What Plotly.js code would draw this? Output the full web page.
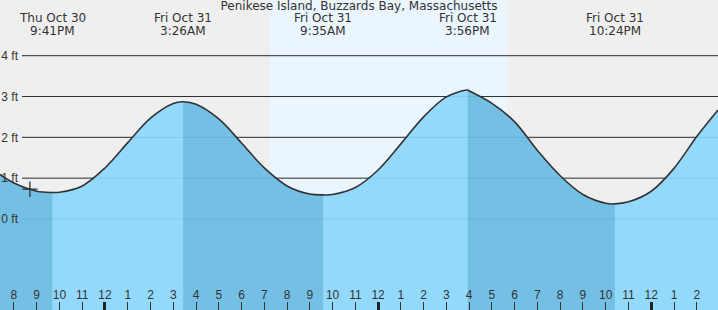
<!DOCTYPE html>
<html>
<head>
<meta charset="utf-8">
<script src="https://cdn.plot.ly/plotly-3.0.1.min.js"></script>
<style>
html,body{margin:0;padding:0;background:#efefef;}
#chart{width:718px;height:310px;}
</style>
</head>
<body>
<div id="chart"></div>
<script>
// ---- data ----
const chartTitle = 'Penikese Island, Buzzards Bay, Massachusetts';
const times = [
  '2025-10-30 19:23:13','2025-10-30 20:00','2025-10-30 21:00','2025-10-30 21:41','2025-10-30 22:00','2025-10-30 23:00',
  '2025-10-31 00:00','2025-10-31 01:00','2025-10-31 02:00','2025-10-31 03:00','2025-10-31 03:26','2025-10-31 04:00',
  '2025-10-31 05:00','2025-10-31 06:00','2025-10-31 07:00','2025-10-31 08:00','2025-10-31 09:00','2025-10-31 09:35',
  '2025-10-31 10:00','2025-10-31 11:00','2025-10-31 12:00','2025-10-31 13:00','2025-10-31 14:00','2025-10-31 15:00',
  '2025-10-31 15:56','2025-10-31 16:00','2025-10-31 17:00','2025-10-31 18:00','2025-10-31 19:00','2025-10-31 20:00',
  '2025-10-31 21:00','2025-10-31 22:00','2025-10-31 22:24','2025-10-31 23:00','2025-11-01 00:00','2025-11-01 01:00',
  '2025-11-01 02:00','2025-11-01 02:56'
];
const levels = [
  1.09, 0.88, 0.68, 0.65, 0.655, 0.81,
  1.25, 1.87, 2.47, 2.83, 2.87, 2.81,
  2.45, 1.86, 1.25, 0.81, 0.61, 0.59,
  0.60, 0.77, 1.20, 1.84, 2.50, 2.99,
  3.16, 3.14, 2.83, 2.38, 1.68, 1.06,
  0.60, 0.385, 0.37, 0.42, 0.68, 1.24,
  2.02, 2.67
];
const extremeTimes = ['2025-10-30 21:41','2025-10-31 03:26','2025-10-31 09:35','2025-10-31 15:56','2025-10-31 22:24'];
const extremeTypes = ['L','H','L','H','L'];
const extremeDays  = ['Thu Oct 30','Fri Oct 31','Fri Oct 31','Fri Oct 31','Fri Oct 31'];
const extremeClock = ['9:41PM','3:26AM','9:35AM','3:56PM','10:24PM'];
const sunrise = '2025-10-31 07:15';
const sunset  = '2025-10-31 17:40';
const nowTime  = ['2025-10-30 20:42'];
const nowLevel = [0.73];
const yTicks = [0, 1, 2, 3, 4];
const yTickText = ['0 ft', '1 ft', '2 ft', '3 ft', '4 ft'];
const xRange = ['2025-10-30 19:23:13','2025-11-01 02:56'];
const yRange = [-2.229, 5.364];

// ---- styling ----
const LIGHT = '#92d9fb';
const DARK = '#73c0e4';
const INK = '#333333';
const FONT = 'DejaVu Sans, sans-serif';
const AXFONT = 'Liberation Sans, Arial, sans-serif';
const floorY = yRange[0] - 1;

const traces = [];
traces.push({x:[times[0], times[times.length-1]], y:[floorY, floorY], mode:'lines', line:{width:0}, hoverinfo:'skip', showlegend:false});
traces.push({x:times, y:levels, mode:'lines', line:{width:0, shape:'spline', smoothing:1}, fill:'tonexty', fillcolor:LIGHT, hoverinfo:'skip', showlegend:false});

// dark (ebbing) bands: from each high (or the start if falling) to the next low
const idx = t => times.indexOf(t);
const bands = [];
let startIdx = 0;
extremeTimes.forEach((t, k) => {
  if (extremeTypes[k] === 'L') { if (startIdx !== null) bands.push([startIdx, idx(t)]); startIdx = null; }
  else { startIdx = idx(t); }
});
if (startIdx !== null) bands.push([startIdx, times.length - 1]);
bands.forEach(([a, b]) => {
  const xs = times.slice(a, b + 1), ys = levels.slice(a, b + 1);
  traces.push({x:[xs[0], xs[xs.length-1]], y:[floorY, floorY], mode:'lines', line:{width:0}, hoverinfo:'skip', showlegend:false});
  traces.push({x:xs, y:ys, mode:'lines', line:{width:0, shape:'spline', smoothing:1}, fill:'tonexty', fillcolor:DARK, hoverinfo:'skip', showlegend:false});
});

// tide curve
traces.push({x:times, y:levels, mode:'lines', line:{color:INK, width:1.6, shape:'spline', smoothing:1}, hoverinfo:'skip', showlegend:false});
// current time marker (on the overlay x axis that carries the bold midnight/noon ticks)
traces.push({x:nowTime, y:nowLevel, xaxis:'x2', mode:'markers', marker:{symbol:'cross-thin-open', size:11, color:INK, line:{color:INK, width:1.3}}, hoverinfo:'skip', showlegend:false});

const shapes = [];
shapes.push({type:'rect', layer:'below', xref:'x', yref:'paper', x0:sunrise, x1:sunset, y0:0, y1:1, fillcolor:'#eaf5fe', line:{width:0}});
yTicks.forEach(v => {
  shapes.push({type:'line', layer:'below', xref:'paper', yref:'y', x0:22/718, x1:1, y0:v, y1:v, line:{color:INK, width:1}});
  shapes.push({type:'line', layer:'above', xref:'paper', yref:'y', x0:22/718, x1:1, y0:v, y1:v, line:{color:'rgba(0,40,80,0.09)', width:1}});
});

const annotations = [];
extremeTimes.forEach((t, k) => {
  annotations.push({x:t, xref:'x', y:1-18/310, yref:'paper', text:extremeDays[k], showarrow:false, yanchor:'middle', xanchor:'center', font:{family:FONT, size:12, color:INK}});
  annotations.push({x:t, xref:'x', y:1-31/310, yref:'paper', text:extremeClock[k], showarrow:false, yanchor:'middle', xanchor:'center', font:{family:FONT, size:12, color:INK}});
});

const layout = {
  width:718, height:310,
  margin:{l:0, r:0, t:0, b:0, pad:0},
  paper_bgcolor:'#efefef', plot_bgcolor:'#efefef',
  font:{family:FONT, size:12, color:INK},
  title:{text:chartTitle, font:{family:FONT, size:12, color:INK}, x:0.5, xanchor:'center', y:1-6/310, yref:'container', yanchor:'middle'},
  showlegend:false,
  xaxis:{type:'date', range:xRange, dtick:3600000, tick0:'2025-10-30 00:00', tickformat:'%-I',
         ticks:'inside', ticklen:8, tickwidth:1, tickcolor:INK, ticklabelposition:'inside',
         showgrid:false, zeroline:false, showline:false, fixedrange:true,
         tickfont:{family:AXFONT, size:12, color:INK}},
  xaxis2:{type:'date', range:xRange, overlaying:'x', anchor:'y', side:'bottom', dtick:43200000, tick0:'2025-10-31 00:00',
          ticks:'inside', ticklen:8, tickwidth:3, tickcolor:'#222', showticklabels:false,
          showgrid:false, zeroline:false, showline:false, fixedrange:true},
  yaxis:{range:yRange, tickvals:yTicks, ticktext:yTickText, ticks:'', ticklabelposition:'outside', ticklabelstandoff:-19,
         showgrid:false, zeroline:false, showline:false, fixedrange:true,
         tickfont:{family:AXFONT, size:12, color:INK}},
  shapes:shapes,
  annotations:annotations
};

Plotly.newPlot('chart', traces, layout, {staticPlot:true, displayModeBar:false});
</script>
</body>
</html>
